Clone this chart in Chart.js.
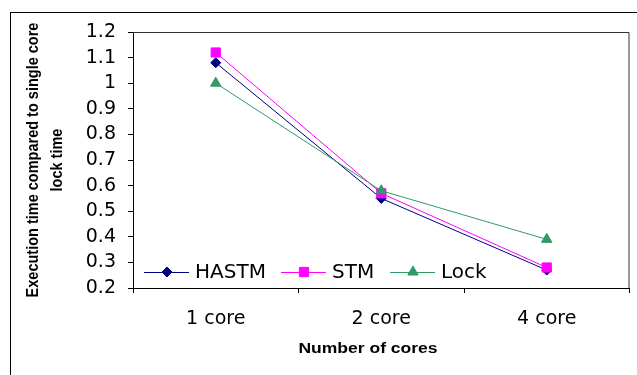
<!DOCTYPE html>
<html>
<head>
<meta charset="utf-8">
<script src="https://cdn.jsdelivr.net/npm/chart.js@4.4.0/dist/chart.umd.min.js"></script>
<style>
  html, body { margin: 0; padding: 0; background: #fff; }
  #wrap { width: 637px; height: 375px; }
</style>
</head>
<body>
<div id="wrap"><canvas id="c" width="637" height="375"></canvas></div>
<script>
// Execution time, normalised to single-core lock time
const categories = ['1 core', '2 core', '4 core'];
const hastm = [1.08, 0.55, 0.27];
const stm   = [1.12, 0.57, 0.28];
const lock  = [1.00, 0.58, 0.39];
const yMin = 0.2, yMax = 1.2, yStep = 0.1;
const xTitle = 'Number of cores';
const yTitleLines = ['Execution time compared to single core', 'lock time'];

const tickFont = { family: 'DejaVu Sans', size: 19 };

// Outer frame and plot-box top/right edges
const framePlugin = {
  id: 'frame',
  beforeDraw(chart) {
    const ctx = chart.ctx;
    ctx.save();
    ctx.fillStyle = '#fff';
    ctx.fillRect(0, 0, chart.width, chart.height);
    ctx.strokeStyle = '#000';
    ctx.lineWidth = 1;
    ctx.strokeRect(10.5, 12.5, 640, 400);
    ctx.restore();
  },
  afterDraw(chart) {
    const { ctx, chartArea: a } = chart;
    ctx.save();
    ctx.strokeStyle = '#333';
    ctx.lineWidth = 1;
    ctx.beginPath();
    ctx.moveTo(a.left, a.top + 0.5);
    ctx.lineTo(a.right - 0.5, a.top + 0.5);
    ctx.lineTo(a.right - 0.5, a.bottom);
    ctx.stroke();
    ctx.restore();
  }
};

// Axis titles, set in a wide bold face
const titlePlugin = {
  id: 'axisTitles',
  afterDraw(chart) {
    const { ctx, chartArea: a } = chart;
    ctx.save();
    ctx.fillStyle = '#000';
    ctx.textAlign = 'center';
    ctx.textBaseline = 'middle';
    // x title
    ctx.save();
    ctx.font = 'bold 14px "Liberation Sans", Arial, sans-serif';
    ctx.translate(368, 349);
    ctx.scale(1.25, 1);
    ctx.fillText(xTitle, 0, 0);
    ctx.restore();
    // y title (two lines, rotated)
    const cy = (a.top + a.bottom) / 2;
    const xs = [33, 57];
    yTitleLines.forEach((line, i) => {
      ctx.save();
      ctx.translate(xs[i], cy);
      ctx.rotate(-Math.PI / 2);
      ctx.scale(1, 1.2);
      ctx.font = 'bold 14.5px "Liberation Sans", Arial, sans-serif';
      ctx.fillText(line, 0, 0);
      ctx.restore();
    });
    ctx.restore();
  }
};

// Legend drawn inside the plot, along its bottom edge
const legendPlugin = {
  id: 'insideLegend',
  afterDraw(chart) {
    const ctx = chart.ctx;
    const y = 272;
    const starts = [144, 281, 390];
    ctx.save();
    ctx.font = '20px "DejaVu Sans", sans-serif';
    ctx.textBaseline = 'middle';
    ctx.textAlign = 'left';
    chart.data.datasets.forEach((ds, i) => {
      const x0 = starts[i];
      ctx.strokeStyle = ds.borderColor;
      ctx.lineWidth = 1;
      ctx.beginPath();
      ctx.moveTo(x0, y + 0.5);
      ctx.lineTo(x0 + 45, y + 0.5);
      ctx.stroke();
      ctx.fillStyle = ds.borderColor;
      ctx.strokeStyle = ds.borderColor;
      Chart.helpers.drawPoint(ctx, {
        pointStyle: ds.pointStyle,
        radius: ds.pointRadius,
        borderWidth: 1
      }, x0 + 23, y);
      ctx.fillStyle = '#000';
      ctx.fillText(ds.label, x0 + 51, y + 1);
    });
    ctx.restore();
  }
};

const mkSet = (label, data, color, style, radius, order) => ({
  label, data, order,
  borderColor: color,
  backgroundColor: color,
  borderWidth: 1,
  pointStyle: style,
  pointRadius: radius,
  pointHoverRadius: radius,
  pointBackgroundColor: color,
  pointBorderColor: color,
  pointBorderWidth: 1,
  tension: 0,
  fill: false
});

new Chart(document.getElementById('c'), {
  type: 'line',
  data: {
    labels: categories,
    datasets: [
      mkSet('HASTM', hastm, '#000080', 'rectRot', 5, 3),
      mkSet('STM', stm, '#FF00FF', 'rect', 6.5, 2),
      mkSet('Lock', lock, '#339966', 'triangle', 6, 1)
    ]
  },
  options: {
    responsive: false,
    animation: false,
    devicePixelRatio: 1,
    layout: { padding: { left: 0, top: 32, right: 3, bottom: 0 } },
    plugins: {
      legend: { display: false },
      tooltip: { enabled: false },
      title: { display: false }
    },
    scales: {
      x: {
        type: 'category',
        offset: true,
        afterFit(scale) { scale.height = 87; },
        grid: { offset: true, drawOnChartArea: false, drawTicks: true, tickLength: 5, color: '#000' },
        border: { display: true, color: '#000', width: 1 },
        ticks: { color: '#000', font: tickFont, padding: 15, maxRotation: 0 }
      },
      y: {
        min: yMin,
        max: yMax,
        afterFit(scale) { scale.width = 133; },
        grid: { drawOnChartArea: false, drawTicks: true, tickLength: 5, color: '#000' },
        border: { display: true, color: '#000', width: 1 },
        ticks: {
          stepSize: yStep,
          autoSkip: false,
          color: '#000',
          font: tickFont,
          padding: 12,
          callback: v => String(Math.round(v * 10) / 10)
        }
      }
    }
  },
  plugins: [framePlugin, titlePlugin, legendPlugin]
});
</script>
</body>
</html>
